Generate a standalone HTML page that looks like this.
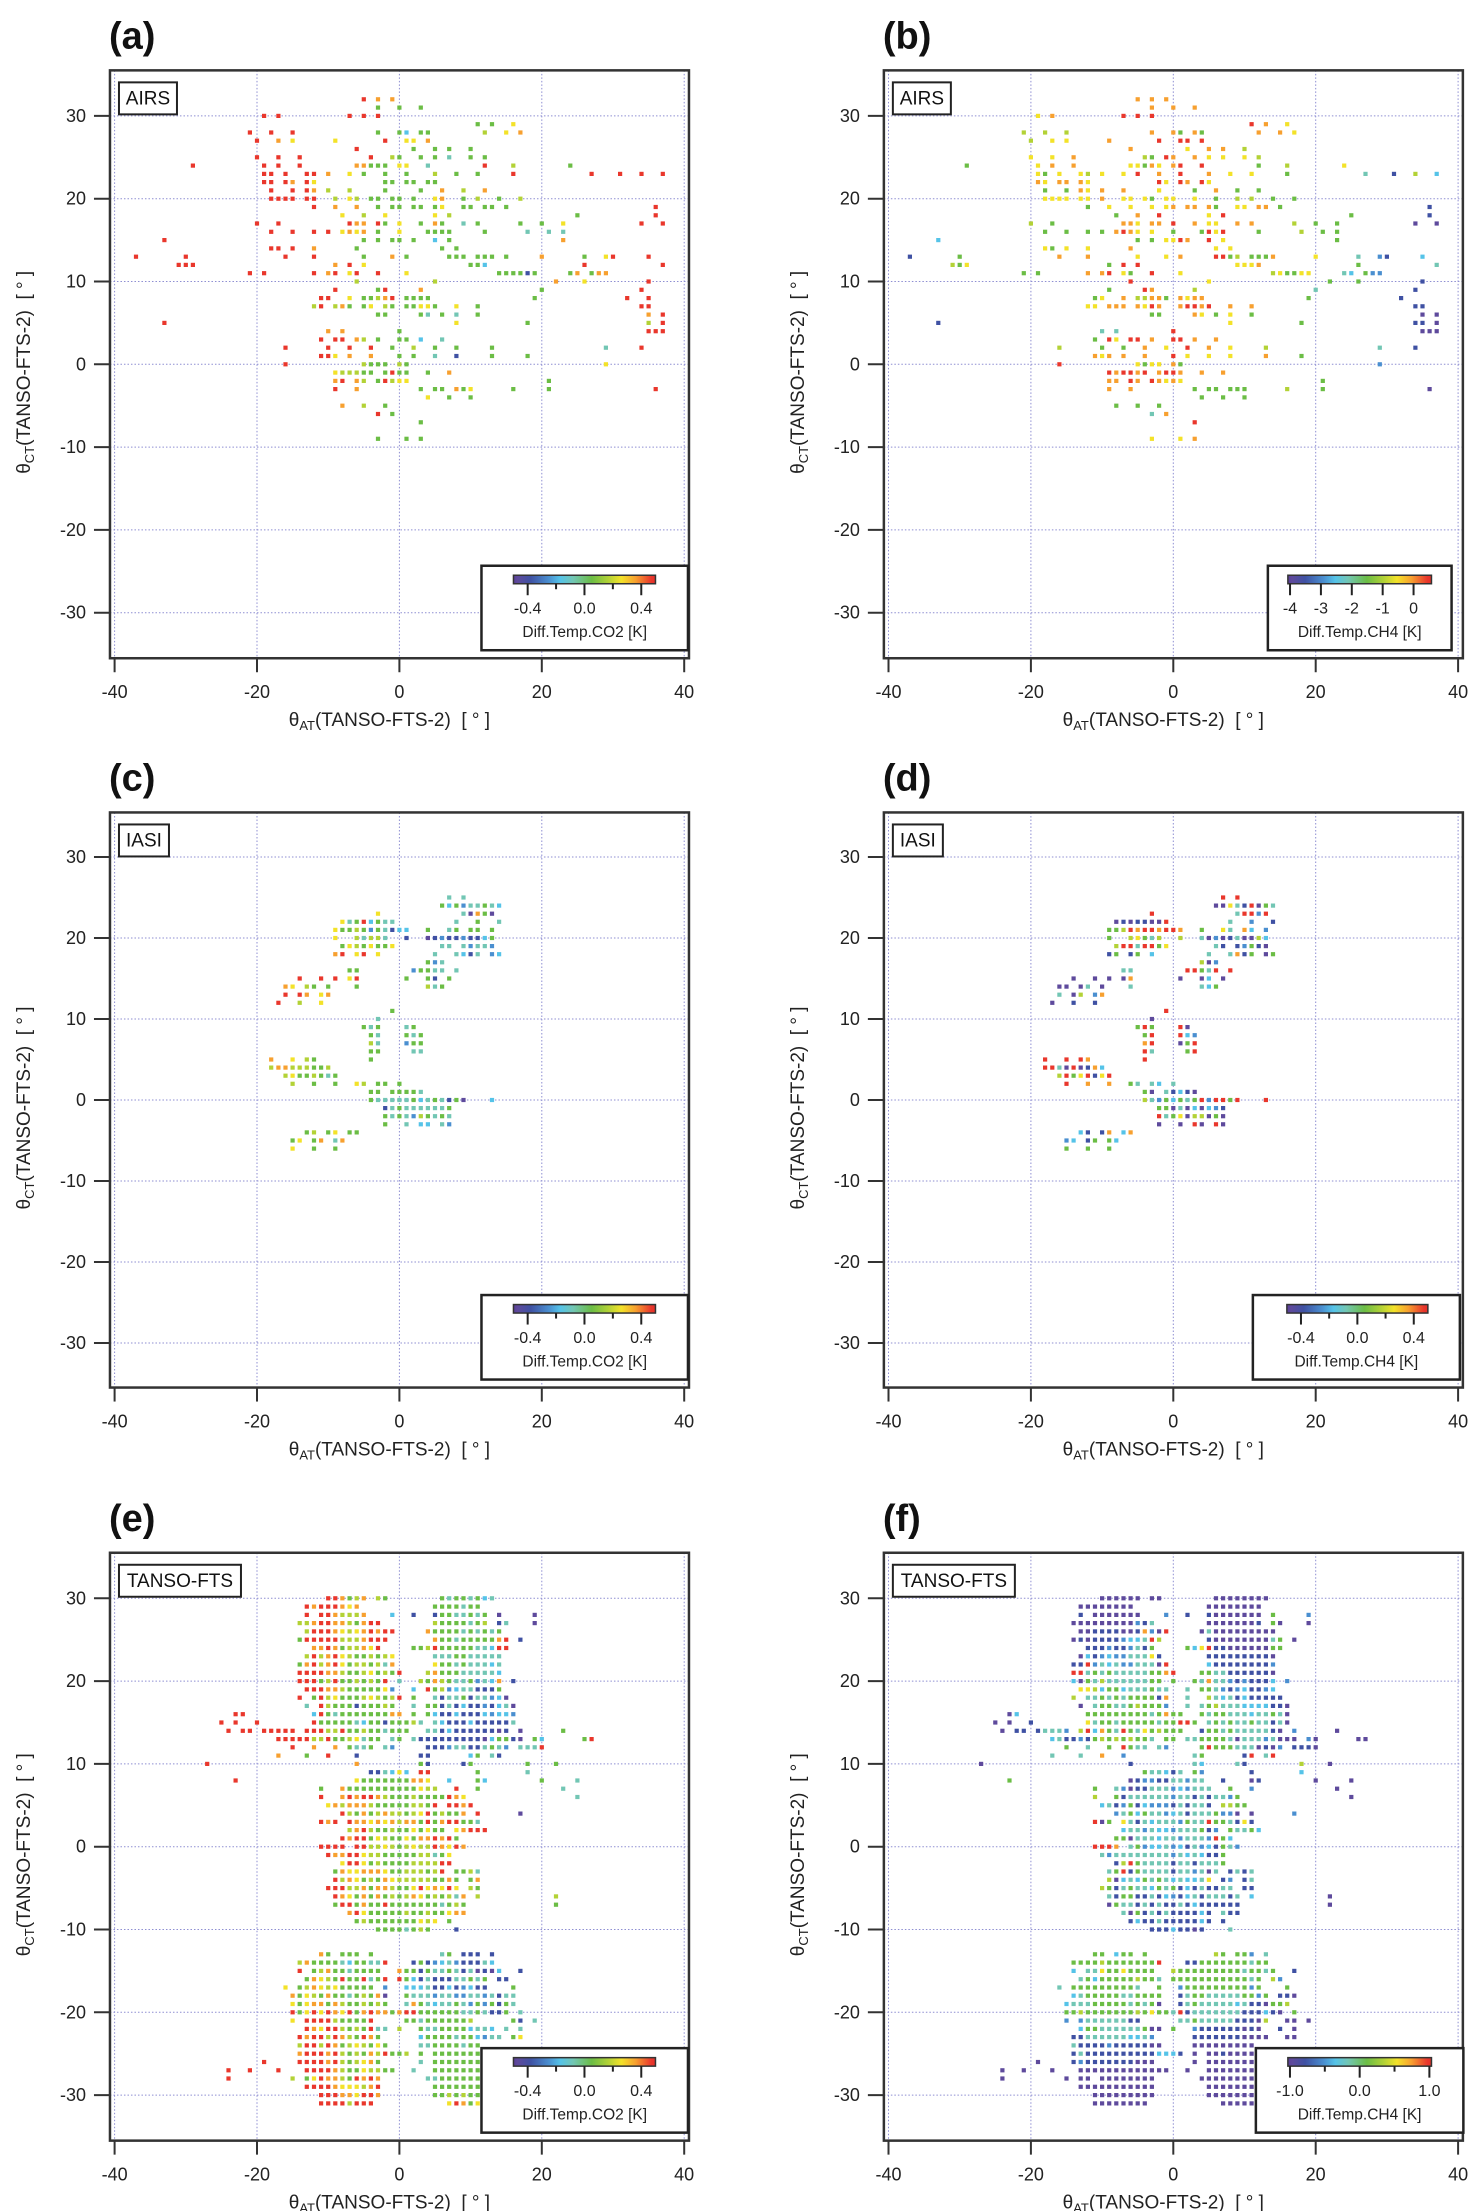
<!DOCTYPE html>
<html><head><meta charset="utf-8"><style>
html,body{margin:0;padding:0;background:#fff}
svg{display:block;font-family:"Liberation Sans",Arial,sans-serif}
</style></head><body>
<svg id="fig" width="1478" height="2211" viewBox="0 0 1478 2211" xmlns="http://www.w3.org/2000/svg"></svg>
<script>
// ---- data: each row = [theta_CT, "x+code" tokens or "start:codes" segments]
const codeLevels = {p:0.03,b:0.12,B:0.25,c:0.33,t:0.42,g:0.55,l:0.67,y:0.76,o:0.86,r:0.97};
const xTicks = [-40,-20,0,20,40];
const yTicks = [-30,-20,-10,0,10,20,30];
const xTickLabels = ["-40","-20","0","20","40"];
const yTickLabels = ["-30","-20","-10","0","10","20","30"];
const co2Range = [-0.5,0.5];
const ch4RangeAirs = [-4.07,0.58];
const ch4RangeIasi = [-0.5,0.5];
const ch4RangeTanso = [-1.03,1.03];

const dataA = [
[32,"-5r -3o -1o"],[31,"-3g 0g 3g"],[30,"-19r -17r -7r -5r -3r"],[29,"11g 13g 16y"],
[28,"-21r -18r -15r -3g 0g 1c 3g 4g 12l 15y 17o"],[27,"-20r -17o -15y -9y -2r 1y 2y 4o"],
[26,"-6r 2g 5g 7g 10g"],[25,"-20r -17r -14r -4r -1l 0g 3g 5g 7t 10g 12g"],
[24,"-29r -19r -17r -14r -6o -5o -4g -3g -2g 0y 1y 4t 12r 16l 24g"],
[23,"-19r -18r -16r -13r -12r -10o -7y -5g -2g 1g 5l 8g 11g 16r 27r 31r 34r 37r"],
[22,"-19r -18r -16r -15o -13r -12y -2g -1g 1g 2g 4g 5g"],
[21,"-18r -15r -13r -12o -10l -7l -2g 3g 6o 9l 12o"],
[20,"-18r -17r -16r -15r -13r -12r -9l -7y -6l -4g -3g -1g 0g 2g 5y 6o 9g 11l 14g 17l"],
[19,"-12r -9o -6o -3g -1g 0g 2g 3g 5g 6y 9g 10g 12g 13g 15g 36r"],
[18,"-8y -5l -2y 5y 7l 25g 36r"],
[17,"-20r -17r -7r -6o -5o -3r -2g 0y 3g 5o 6g 9t 11g 17g 20g 23y 34r 37r"],
[16,"-18r -15r -12r -10r -8y -7o -6y -5o -3g 0y 4g 5g 6g 7g 12g 18t 21t 23t"],
[15,"-33r -5g -3g -1g 0g 2g 5c 7g 23o"],[14,"-18r -17r -15r -12o -6g 6g 8g"],
[13,"-37r -30r -16r -12r -5g -1o 1g 7g 8g 9g 11g 12g 13g 15g 20o 26g 29y 30r 35r"],
[12,"-31r -30r -29r -9o -7r -5y 10g 11g 12c 26r 37r"],
[11,"-21r -19r -12r -10o -9r -7y -6r -3r 1y 14g 15g 16g 17g 18b 19g 24g 25o 27g 28o 29o"],
[10,"-6l 5l 22o 26y 35r"],[9,"-9r -3g -2r 3o 20g 34r"],
[8,"-11r -10r -7y -5g -4g -3l -2o -1r 1g 2g 3g 4g 19g 32r 35r"],
[7,"-12l -11r -9l -8o -7g -5g -4y -2l -1g 1g 2g 3y 4y 5g 8y 11g 34r 35r"],
[6,"-3g -2g 3g 4t 6g 8t 11g 35o 37r"],[5,"-33r 8y 18g 35l 37r"],[4,"-10o -8o 0g 35r 36r 37r"],
[3,"-11r -9r -8r -6o -5l -3g 0g 1g 3c 6t"],[2,"-16r -10r -7r -4r -1g 2l 5g 8g 13g 29t 34r"],
[1,"-11r -10r -9y -7o -4o 0g 2g 5t 8b 13g 18g"],[0,"-16r -5l -4g -3g -2g 0l 1g 29y"],
[-1,"-9y -8l -7l -6l -5g -4g -2g -1r 0g 1g 4g 7o"],[-2,"-9o -8r -6o -5l -3g -2r -1l 0y 1y 21g"],
[-3,"-9r -6o 3g 5g 6g 8o 9g 10y 16g 21g 36r"],[-4,"4y 7g 10g"],[-5,"-8o -5l -2g"],
[-6,"-3r -1g"],[-7,"3g"],[-9,"-3g 1g 3g"]
];
const dataB = [
[32,"-5o -3o -1o"],[31,"-3o 0o 3o"],[30,"-19y -17o -7r -5r -3r"],[29,"11r 13o 16y"],
[28,"-21l -18l -15l -3o 0o 1g 3o 4g 12o 15o 17y"],[27,"-20l -17y -15y -9o -2r 1r 2r 4r"],
[26,"-6o 2y 5o 7o 10l"],[25,"-20y -17y -14o -4l -3g -1r 0o 3o 5y 7y 10y 12l"],
[24,"-29g -19y -17o -14o -6y -5y -4g -3o -2y 0o 1r 4r 12g 16l 24y"],
[23,"-19y -18g -16y -13y -12l -10y -7y -5r -2o 1r 5o 8y 11y 16g 27t 31b 34l 37c"],
[22,"-19o -18y -16o -15o -13o -12y -2r -1y 1r 2o 4r 5y"],
[21,"-18g -15g -13o -12y -10o -7o -2y 3g 6o 9g 12g"],
[20,"-18y -17y -16y -15y -13y -12y -10o -7y -6y -4y -3g -1y 0y 3y 6g 9l 11l 14g 17g"],
[19,"-12g -9y -6y -3y -1y 0o 2o 3o 5o 6g 9y 10y 12o 13o 15g 36b"],
[18,"-8g -5o -2r 5y 7r 25g 36b"],
[17,"-20l -17g -7o -6o -5y -3o -2o 0r 3o 5y 6y 9o 11o 17l 20g 23g 34p 37p"],
[16,"-18g -15g -12g -10g -8o -7r -6o -5y -3y 0g 4g 5r 6y 7r 12g 18l 21g 23g"],
[15,"-33c -5g -3g -1y 0y 1r 2o 5r 7y 23g"],[14,"-18y -17g -15y -12y -6o 6y 8y"],
[13,"-37b -30g -16o -12o -5y -1y 1o 6r 7r 8g 9l 11g 12g 13g 14o 20y 26t 29B 30b 35c"],
[12,"-31l -30g -29y -9g -7r -5r 9y 10y 11y 12o 26g 37t"],
[11,"-21g -19g -12o -10o -9r -7y -6g -3r 1y 14l 15y 16g 17g 18y 19y 24t 25c 27g 28B 29B"],
[10,"-6r 5y 22g 26g 35b"],[9,"-9g -4r -3o 3l 20t 34b"],
[8,"-11g -10y -7o -5l -4l -3o -2o -1g 1o 2y 3o 4o 19g 32b"],
[7,"-12y -11y -9o -8o -7o -5o -4y -3r -2o 1o 2r 3r 4o 5r 8o 11o 34b 35b"],
[6,"-3g -2g 3o 4y 6g 8y 11g 35p 37p"],[5,"-33b 8y 18g 34b 35b 37p"],[4,"-10t -8t 0r 35p 36p 37p"],
[3,"-11g -9r -8y -6r -5r -3o 0r 1r 3o 6o"],[2,"-16l -10g -7g -4o -1y 2r 5o 8y 13l 29t 34b"],
[1,"-11o -10y -9o -7o -4o 0r 2y 5y 8y 13o 18g"],[0,"-16r -5y -4g -3y -2y 0o 1g 29B"],
[-1,"-9r -8o -7r -6r -5o -4r -2o -1r 0r 1o 4o 7o"],[-2,"-9o -8o -6r -5o -3r -2o -1y 0o 1y 21g"],
[-3,"-9o -6o 3g 5g 6g 8g 9g 10g 16l 21g 36p"],[-4,"4g 7g 10g"],[-5,"-8g -5g -2g"],
[-6,"-3t -1o"],[-7,"3r"],[-9,"-3y 1y 3o"]
];
const dataC = [
[25,"7t 9t"],[24,"6g 7c 8g 9B 10t 11t 12g 13t 14c"],[23,"-3y 9t 10p 11o 12g 13p"],
[22,"-8y -7t -6g -5r -4c -3g -2t -1t 8t 11g 14t"],
[21,"-9y -8g -7g -6l -5g -4B -3g -2t -1b 0c 1c 4g 7t 8g 10g 11g 13g"],
[20,"-9y -6l -5t -4l -3l -2t 1b 4p 5b 6B 7b 8b 9B 10b 11b 12c 13g"],
[19,"-8g -7y -6l -5g -4y -3g -2g -1y 6t 7t 9t 10B 11t 12t 13B"],
[18,"-9o -8r -6y -5r -3y 5t 8t 9c 10b 11t 13B 14c"],[17,"4g 5B 6t"],
[16,"-7g -6g 2B 3g 4g 5t 6t 8t"],[15,"-14r -11r -9r -7y -6r 1g 4g 5b 7g"],
[14,"-16o -15y -13l -12g -10g -6g 4l 5t 6g"],[13,"-16r -14r -13o -11y -10o"],[12,"-17r -14l -11y"],
[11,"-1g"],[10,"-3t"],[9,"-5g -4t -3g 1t 2g"],[8,"-4g -3t 1g 2t 3g"],[7,"-4l -3t 1B 2g 3g"],
[6,"-4g -3g 2t 3t"],[5,"-18o -15y -13l -12g -4g"],[4,"-18l -17o -16o -15l -14l -13l -12g -11g -10l"],
[3,"-16l -15y -14g -13g -12l -11g -10t -9g"],[2,"-15l -12g -9g -6y -5l -3g -2g 0g"],
[1,"-4g -3g -1g 0g 1g 2g 3t"],[0,"-4g -3t -2t -1t 0t 1t 2g 3c 4t 5g 6t 7b 8g 9p 13c"],
[-1,"-2b -1t 0g 1t 2t 3t 4t 5t 6t 7g"],[-2,"-2g -1t 0g 1t 2B 3l 4g 5t 6g 7t"],
[-3,"-2g 1t 3c 4c 6t 7B"],[-4,"-13g -12l -10g -9y -7g -6g"],[-5,"-15g -14y -12g -11o -9t -8o"],
[-6,"-15y -12g -9g"]
];
const dataD = [
[25,"7r 9r"],[24,"6p 7p 8y 9t 10b 11r 12p 13g 14t"],[23,"-3r 9t 10r 11r 12B 13r"],
[22,"-8p -7b -6p -5b -4b -3p -2p -1r 8t 11B 14b"],
[21,"-9g -8g -7l -6r -5o -4r -3r -2o -1r 0r 1o 4g 7y 8t 10o 11c 13B"],
[20,"-9g -6l -5y -4g -3t -2l 1l 4t 5p 6B 7p 8b 9t 10p 11p 12l 13c"],
[19,"-8l -7r -6r -5t -4r -3r -2g -1y 6t 7b 9b 10B 11g 12b 13p"],
[18,"-9b -8g -6b -5g -3c 5t 8t 9o 10b 11g 13p 14g"],[17,"4l 5p 6B"],
[16,"-7t -6t 2r 3r 4g 5t 6r 8r"],[15,"-14p -11p -9p -7p -6o 1p 4p 5c 7p"],
[14,"-16p -15p -13p -12t -10p -6t 4t 5c 6g"],[13,"-16t -14p -13l -11B -10o"],[12,"-17p -14b -11b"],
[11,"-1r"],[10,"-3p"],[9,"-5g -4r -3g 1r 2p"],[8,"-4g -3r 1r 2c 3B"],[7,"-4o -3r 1p 2g 3r"],
[6,"-4r -3t 2g 3r"],[5,"-18r -15r -13r -12o -4r"],[4,"-18r -17r -16t -15p -14r -13p -12b -11o -10c"],
[3,"-16l -15r -14g -13y -12r -11b -10y -9r"],[2,"-15r -12o -9o -6g -5t -3t -2c 0t"],
[1,"-4g -3p -1t 0b 1c 2b 3p"],[0,"-4l -3t -2B -1g 0c 1g 2t 3g 4r 5B 6r 7r 8g 9r 13r"],
[-1,"-2g -1g 0p 1t 2p 3c 4p 5c 6B 7b"],[-2,"-2r -1t 0g 1y 2p 3l 4l 5p 6g 7p"],
[-3,"-2p 1p 3r 4p 6r 7p"],[-4,"-13c -12b -10b -9o -7c -6o"],[-5,"-15B -14c -12b -11g -9g -8c"],
[-6,"-15g -12g -9g"]
];
const dataE = [
[30,"-10:rroglo.lg 6:gtggtgct"],[29,"-13:rorrroyo 5:ggggtgg"],
[28,"-13:r.rrolllo -1:c..b 5:bggttgtg 14:p 19:p"],[27,"-14:llorroolgorr 5:lggggtgl 14:bt 19:p"],
[26,"-13:lrrroylyororr 4:oggggtgtgtg"],[25,"-14:grrrrrlllorrr 5:oggtgggggor 17:b"],
[24,"-12:ooroglloyr 2:gglrgggggttcrr"],[23,"-13:lrlorylgglgly 5:tttggttttt"],
[22,"-14:gorlorygllglto 5:yggtgtttct"],[21,"-14:rrrroolgglyglgr 4:logggtttttc"],
[20,"-14:rrrglrgglglgr.t 3:lgolgttgBtco 16:b"],[19,"-13:rrroolgggggyB 2:c.rglBcttbbbg"],
[18,"-14:r.grlyggglylglr 2:g..tbttgbttBcp"],[17,"-13:t.rlgggbggglg 2:t.ggbtbcbbBbctp"],
[16,"-23:rr -12:crgtgggggggoo 2:g.gcbbcbbbcBccB"],[15,"-25:r.r..r -12:rgggggtcggbggglt 5:tcbbbcbbbbbt"],
[14,"-24:r.rr.rrrrr -13:rrrllrgglggtggg 4:ttbcbbbbbbpb 17:p 23:g"],
[13,"-17:rrrrrllrgglytgg.tg 2:tbbbbbbbbbpcggbp 19:gc 26:gr"],
[12,"-15:r..o..o.gttg.tB 4:bbbBttbbtgtB 17:tttr"],[11,"-17:o...g..r...b 3:bb 10:cg.tb"],
[10,"-27:r -6:o 3:gb 9:bg 18:g 22:g"],[9,"-4:bbtcyc 3:rr 11:g 18:t"],
[8,"-23:r -6:ygggggggooy 7:c 11:gc 20:g 25:t"],[7,"-11:g -8:oggggggggggyll 8:r 11:g 23:t"],
[6,"-11:r -8:ororrolggglggggroy 25:t"],[5,"-10:yolooolgggggllgr 7:rror"],
[4,"-8:rlgoglollglyrglggo 11:r 17:p"],[3,"-11:ror.rooyoyoloogrgorrggt"],
[2,"-7:lorlgglggygygg.yorrr"],[1,"-8:rorrgylggygoororg"],[0,"-11:rrrr.rrllylglyllroyro"],
[-1,"-10:roorryllggggglltgy"],[-2,"-8:yrryglggggllllrr"],[-3,"-9:goyyoooygglllglr 8:gglt"],
[-4,"-9:rloyglgoylllllggo 8:g.go"],[-5,"-10:rrrllogoolggyryoyry 10:lg"],
[-6,"-9:roygogoglgloyglglto 11:l 22:l"],[-7,"-9:grrgoggrgggggggtglg 22:g"],
[-8,"-7:oryggggglgglggyoo"],[-9,"-6:glgggggggyly 7:g"],[-10,"-3:ggggtglg 8:b"],
[-13,"-11:og -8:ggg -4:g 6:tg 9:bbb 13:b"],[-14,"-14:loggggtcggttr 2:bgbBctBbbbtc"],
[-15,"-14:r -12:gloggtgggg 0:oggbgttgtbtpbpc 17:b"],[-16,"-13:goylgrggrtgr 0:rgcbtbbbttgtg 14:bb"],
[-17,"-16:y -14:gloylyggggg -2:B 1:ccctbbcbBcbb 16:g"],[-18,"-15:ogylgoggtglgop 1:gtttBttBBttBtbtt"],
[-19,"-15:ygyoogolgglglg 1:togtcttgtBgBgbgt"],[-20,"-15:rgyryroyrgoroogor 2:rggggggttgtbbg 17:t"],
[-21,"-15:y -13:rrrrlggggr 1:ggtggggggl ggog 16:gb 19:t"],[-22,"-13:royrrlglgrtt 0:l 3:gttggggcttc 15:t 17:t"],
[-23,"-14:rorrlrolgrog 3:cggggtggcBtt 16:gy"],[-24,"-14:lrrlroglylgyg 3:ttggggtgg"],
[-25,"-14:orrrorlglgolrggl 3:g 5:ggggggg"],[-26,"-19:r -14:rrrrorlglyog 3:t 5:ggggggg"],
[-27,"-24:r -21:r -17:r -13:rrrrolggyllgg 2:t 5:ggggggg"],[-28,"-24:r -15:l -13:gyroolgroro 4:ttgggggg"],
[-29,"-13:rrrroyyylor 5:ggggggg"],[-30,"-11:rrrooyrro 5:gglglgg"],[-31,"-11:rrrrlrrr 7:yrogy"]
];
const dataF = [
[30,"-10:pppppp.pp 6:pppppppp"],[29,"-13:pppppppp 5:pppppppp"],
[28,"-13:b.ppppppp -1:B..b 5:bppppppp 14:g 19:B"],[27,"-14:pppppppppBbt 5:pppppppb 14:gp 19:p"],
[26,"-13:ppbbbbppboBpr 4:ptppppppppp"],[25,"-14:pbpbbbbBcctrl 5:bpppppppptg 17:p"],
[24,"-12:bbbBbbBtbg 2:gcyrbbppppppgg"],[23,"-13:pcbBcBBtttyb 5:bbbbbbbbbp"],
[22,"-14:bbrBtctBBtttpr 5:cbbbbbbbbB"],[21,"-14:rrtgtgtttttggor 4:ggttbbbbbbp"],
[20,"-14:cpgtlttttttgg.g 3:gtottBbBbbbc 16:B"],[19,"-13:yylcggctttgtt 2:t.ggtBbBcbbBc"],
[18,"-14:l.ttgtgtggggbo 2:t..ltctbcbbbbb"],[17,"-13:p.tggttglgggB 2:t.tgltttccccbbp"],
[16,"-23:pc -12:gggggggggtgogg 4:gtggtttcttgtp"],[15,"-25:p.p..b -12:ytggtgggggtggrrg 5:tgtgttgttbtp"],
[14,"-24:p.bb.btttB -13:lrcogtrgtyglggg 4:bggtgtttttbp 17:B 23:p"],
[13,"-17:ctbbBbglglglggt.gg 2:ttggggtptttBtppp 19:Bp 26:pp"],
[12,"-15:g..t..g.rgtt.tB 4:grgggtttpbpB 17:bbbp"],[11,"-17:t -13:t -10:o -7:B 3:tg 10:br 13:tr"],
[10,"-27:p -6:b 3:tc 9:tb 18:l 22:p"],[9,"-4:gttcbt 3:gB 11:b 18:c"],
[8,"-23:g -6:pbBBbbttBtt 7:b 11:pb 20:p 25:p"],[7,"-11:g -8:tBpbbtttBcBttt 8:g 11:B 23:p"],
[6,"-11:l -8:gbttttttBttbtbttBg 25:p"],[5,"-10:ctbBgbcBBBbtbttb 7:llgg"],
[4,"-8:BtgcgttBctbtttgBBp 11:p 17:B"],[3,"-11:rpg.ytbtctttBgttrggtbyb"],
[2,"-7:cttBtccBtttgbB 8:gttgc"],[1,"-8:ggptttcttBtttBrgc"],[0,"-11:rrro.tgBcctBcbtBcbgtB"],
[-1,"-10:tBttttttttBtctcbbg"],[-2,"-8:blrgttttbttbtttg"],[-3,"-9:tgrbgttttbttBtpt 8:btbt"],
[-4,"-9:lpctcgtgtctccty 7:bB 10:bt"],[-5,"-10:lgbtgttcgtgbcbtbbtt 10:bb"],
[-6,"-9:tbggbbtbcBbctbtttbt 11:c 22:p"],[-7,"-9:pgttbtbtbbtbcbbbbbb 22:p"],
[-8,"-7:tpgbtbtbbbbcb 7:tbb"],[-9,"-6:bcbbtbbbbbcb 7:b"],[-10,"-3:bbbcbbpb 8:t"],
[-13,"-11:gg -8:cgg -4:g 6:lg 9:ggB 13:t"],[-14,"-14:gggglgggggggr 2:bbgggggggtgg"],
[-15,"-14:c -12:ttyggygggg 0:lgggggggggtggtg 17:b"],[-16,"-13:tgcggggglggt 0:gggggggggggtg 14:lB"],
[-17,"-16:t -14:gggggggggt -2:g 1:BgggggggggBg 16:g"],[-18,"-14:ctgggggttgggg 1:btggtttttggBg 15:bbp"],
[-19,"-15:ctttgggggtgtgp 1:btgtttttctbbpggl"],[-20,"-15:gglggggggglgyggtrbtttttttbbbcbp 17:g"],
[-21,"-15:B -13:Bttttttbb 1:ttgtttttbbbpl 16:pp 19:p"],[-22,"-13:cggttttttgpp 0:g 3:Bbbbbbbpbp 15:b 17:p"],
[-23,"-14:bbttttttcctB 3:bbbbbbbpppp 16:pp"],[-24,"-14:tbbbbBbbbbbpp 3:ppppppppp"],
[-25,"-14:btbbbbbbbbbbcccb 3:p 5:ppbpppp"],[-26,"-19:p -14:bBbbbbbbbppp 3:p 5:ppppppp"],
[-27,"-24:p -21:p -17:p -13:ppppppppppppp 2:p 5:ppppppp"],[-28,"-24:p -15:p -13:pp -10:pppppppp 4:pppppppp"],
[-29,"-13:ppppppppppp 5:ppppppp"],[-30,"-11:ppppppppp 5:ppppppp"],[-31,"-11:pppppppp 7:ppppp"]
];

// ---- rendering
const NS = "http://www.w3.org/2000/svg";
const svg = document.getElementById('fig');
function el(tag, attrs, parent, text){
  const e = document.createElementNS(NS, tag);
  for (const k in attrs) e.setAttribute(k, attrs[k]);
  if (text !== undefined) e.textContent = text;
  (parent || svg).appendChild(e);
  return e;
}
const cmapStops = [[0,"#5b3f99"],[0.03,"#5e4a9c"],[0.12,"#3f51a3"],[0.25,"#4a8fd0"],[0.33,"#55c3e8"],[0.42,"#72c6b4"],[0.55,"#6bbd45"],[0.67,"#b3d236"],[0.76,"#f3e229"],[0.86,"#f7a02f"],[0.97,"#e9372c"],[1,"#e53029"]];
function hex(h){return [1,3,5].map(i=>parseInt(h.substr(i,2),16));}
function cmap(t){
  t = Math.max(0, Math.min(1, t));
  for (let i=1;i<cmapStops.length;i++){
    if (t <= cmapStops[i][0]){
      const [t0,c0]=cmapStops[i-1],[t1,c1]=cmapStops[i];
      const f=(t-t0)/(t1-t0||1), a=hex(c0), b=hex(c1);
      return "rgb("+a.map((v,j)=>Math.round(v+(b[j]-v)*f)).join(",")+")";
    }
  }
  return cmapStops[cmapStops.length-1][1];
}
function parseRows(rows, range){
  const pts=[];
  rows.forEach(([y,s])=>{
    s.trim().split(/\s+/).forEach(tok=>{
      if (tok.indexOf(':')>=0){
        const [st,codes]=tok.split(':'); let x=parseInt(st);
        for (const ch of codes){ if (codeLevels[ch]!==undefined) pts.push({x,y,v:range[0]+codeLevels[ch]*(range[1]-range[0])}); x++; }
      } else {
        const m=tok.match(/^(-?\d+)([a-zA-Z])$/);
        if (m && codeLevels[m[2]]!==undefined) pts.push({x:+m[1],y,v:range[0]+codeLevels[m[2]]*(range[1]-range[0])});
      }
    });
  });
  return pts;
}
const cols=[399.4,1173.3], UX=7.12;
const rowsGeo=[{y0:364.3,uy:8.28},{y0:1100,uy:8.1},{y0:1846.7,uy:8.28}];
const panels=[
 {id:"a",c:0,r:0,src:"AIRS",srcW:58,data:dataA,range:co2Range,major:[-0.4,0,0.4],majLab:["-0.4","0.0","0.4"],minor:[-0.2,0.2],title:"Diff.Temp.CO2 [K]",lg:[207.5,1,32,142]},
 {id:"b",c:1,r:0,src:"AIRS",srcW:58,data:dataB,range:ch4RangeAirs,major:[-4,-3,-2,-1,0],majLab:["-4","-3","-2","-1","0"],minor:[],title:"Diff.Temp.CH4 [K]",lg:[195,11.3,20,143.6]},
 {id:"c",c:0,r:1,src:"IASI",srcW:50,data:dataC,range:co2Range,major:[-0.4,0,0.4],majLab:["-0.4","0.0","0.4"],minor:[-0.2,0.2],title:"Diff.Temp.CO2 [K]",lg:[207.5,1,32,142]},
 {id:"d",c:1,r:1,src:"IASI",srcW:50,data:dataD,range:ch4RangeIasi,major:[-0.4,0,0.4],majLab:["-0.4","0.0","0.4"],minor:[-0.2,0.2],title:"Diff.Temp.CH4 [K]",lg:[210,3,34,141]},
 {id:"e",c:0,r:2,src:"TANSO-FTS",srcW:122,data:dataE,range:co2Range,major:[-0.4,0,0.4],majLab:["-0.4","0.0","0.4"],minor:[-0.2,0.2],title:"Diff.Temp.CO2 [K]",lg:[207.5,1,32,142]},
 {id:"f",c:1,r:2,src:"TANSO-FTS",srcW:122,data:dataF,range:ch4RangeTanso,major:[-1,0,1],majLab:["-1.0","0.0","1.0"],minor:[-0.5,0.5],title:"Diff.Temp.CH4 [K]",lg:[207,-0.5,32,143.6]}
];
const defs = el('defs',{});
const grad = el('linearGradient',{id:'cbar',x1:'0',x2:'1',y1:'0',y2:'0'},defs);
cmapStops.forEach(([t,c])=>el('stop',{offset:t,'stop-color':c},grad));

panels.forEach(p=>{
  const x0=cols[p.c], g0=rowsGeo[p.r];
  const sx=x=>x0+x*UX, sy=y=>g0.y0-y*g0.uy;
  const L=sx(-40.65), R=sx(40.67), T=sy(35.5), B=sy(-35.5);
  const g=el('g',{});
  
  
  const letter=el('text',{x:L-1,y:T-22,'font-size':38,'font-weight':'bold',fill:'#111'},g,'('+p.id+')');
  
  
  // grid
  xTicks.forEach(v=>{const l=el('line',{x1:sx(v),x2:sx(v),y1:T,y2:B,stroke:'#8e8ed2','stroke-width':1,'stroke-dasharray':'1.5 2'},g);
     });
  yTicks.forEach(v=>{const l=el('line',{x1:L,x2:R,y1:sy(v),y2:sy(v),stroke:'#8e8ed2','stroke-width':1,'stroke-dasharray':'1.5 2'},g);
     });
  // points
  const pts=parseRows(p.data,p.range);
  const pg=el('g',{},g);
  
  
  pts.forEach(d=>{
    const t=(d.v-p.range[0])/(p.range[1]-p.range[0]);
    const r=el('rect',{x:(sx(d.x)-2.1).toFixed(1),y:(sy(d.y)-2.1).toFixed(1),width:4.2,height:4.2,fill:cmap(t)},pg);
    
    
  });
  // frame
  const fr=el('rect',{x:L,y:T,width:R-L,height:B-T,fill:'none',stroke:'#333','stroke-width':2.5},g);
  
  
  // ticks & labels
  xTicks.forEach((v,i)=>{
    el('line',{x1:sx(v),x2:sx(v),y1:B,y2:B+14,stroke:'#333','stroke-width':2},g);
    const t=el('text',{x:sx(v),y:B+34,'font-size':18,'text-anchor':'middle','dominant-baseline':'central',fill:'#222'},g,xTickLabels[i]);
    
    
  });
  yTicks.forEach((v,i)=>{
    el('line',{x1:L-16,x2:L,y1:sy(v),y2:sy(v),stroke:'#333','stroke-width':2},g);
    const t=el('text',{x:L-24,y:sy(v),'font-size':18,'text-anchor':'end','dominant-baseline':'central',fill:'#222'},g,yTickLabels[i]);
    
    
  });
  // axis titles
  const xt=el('text',{x:x0-10,y:B+62,'font-size':19,'text-anchor':'middle','dominant-baseline':'central',fill:'#222'},g);
  
  
  el('tspan',{},xt,'θ'); el('tspan',{'font-size':13,dy:5},xt,'AT'); el('tspan',{dy:-5},xt,'(TANSO-FTS-2)\u00a0\u00a0[\u00a0°\u00a0]');
  const yc=g0.y0+8, xc=L-86;
  const yt=el('text',{x:xc,y:yc,'font-size':19,'text-anchor':'middle','dominant-baseline':'central',fill:'#222',transform:`rotate(-90 ${xc} ${yc})`},g);
  
  
  el('tspan',{},yt,'θ'); el('tspan',{'font-size':13,dy:5},yt,'CT'); el('tspan',{dy:-5},yt,'(TANSO-FTS-2)\u00a0\u00a0[\u00a0°\u00a0]');
  // source label
  const sb=el('rect',{x:L+9,y:T+12,width:p.srcW,height:32,fill:'#fff',stroke:'#222','stroke-width':2},g);
  
  
  const st=el('text',{x:L+9+p.srcW/2,y:T+28.5,'font-size':19,'text-anchor':'middle','dominant-baseline':'central',fill:'#111'},g,p.src);
  
  
  // colour legend
  const [lw,rOff,cbOff,cbW]=p.lg;
  const bx=R-lw, bR=R-rOff, by=B-92.5, bB=B-8;
  const lgG=el('g',{},g);
  
  
  el('rect',{x:bx,y:by,width:bR-bx,height:bB-by,fill:'#fff',stroke:'#222','stroke-width':2.5},lgG);
  const cx=bx+cbOff, cy=by+9.5;
  const cb=el('rect',{x:cx,y:cy,width:cbW,height:8.5,fill:'url(#cbar)',stroke:'#333','stroke-width':1.5},lgG);
  
  
  const cpos=v=>cx+(v-p.range[0])/(p.range[1]-p.range[0])*cbW;
  p.major.forEach((v,i)=>{
    el('line',{x1:cpos(v),x2:cpos(v),y1:cy+8.5,y2:cy+20,stroke:'#222','stroke-width':2},lgG);
    const t=el('text',{x:cpos(v),y:cy+34,'font-size':16,'text-anchor':'middle','dominant-baseline':'central',fill:'#222'},lgG,p.majLab[i]);
    
    
  });
  p.minor.forEach(v=>el('line',{x1:cpos(v),x2:cpos(v),y1:cy+8.5,y2:cy+14,stroke:'#222','stroke-width':2},lgG));
  const lt=el('text',{x:(bx+bR)/2,y:by+67,'font-size':15.5,'text-anchor':'middle','dominant-baseline':'central',fill:'#222'},lgG,p.title);
  
  
});
</script>
</body></html>
